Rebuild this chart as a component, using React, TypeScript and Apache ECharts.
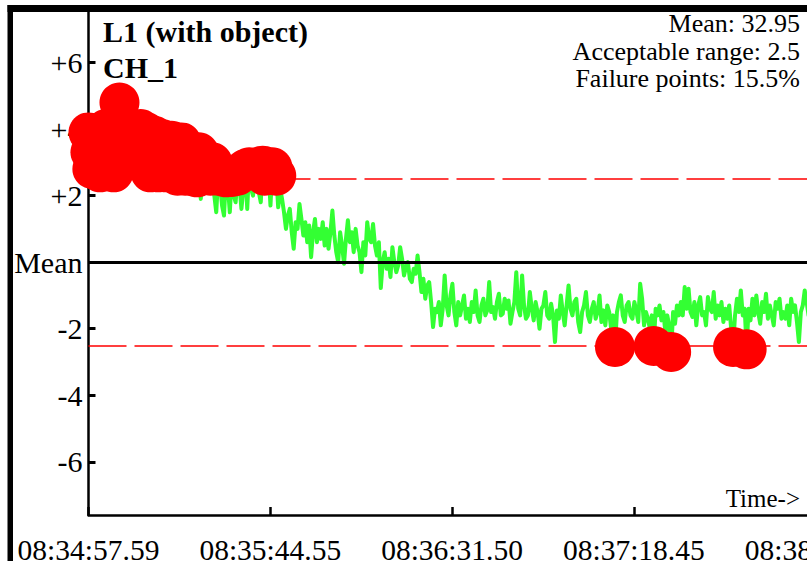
import React, { useEffect, useRef } from "react";
import * as echarts from "echarts";

// ---- data ----
const SAMPLE_STEP = 0.5; // seconds between samples
const GREEN_VALUES = [
  // t 0-9.5
  3.9, 3.3, 2.8, 3.6, 3.5, 2.9, 2.7, 3.4, 3.6, 4.0, 3.0, 3.5, 4.0, 2.7, 3.2, 4.2, 4.8, 4.0, 3.9, 3.1,
  // t 10-19.5
  3.3, 3.6, 3.1, 3.9, 3.5, 3.1, 3.2, 4.0, 3.6, 3.4, 3.9, 3.0, 2.7, 3.5, 3.8, 3.3, 2.7, 3.0, 3.7, 3.2,
  // t 20-29.5
  2.7, 3.6, 3.4, 3.65, 2.9, 3.2, 2.6, 3.5, 3.6, 3.0, 2.6, 3.3, 2.8, 2.6, 3.3, 3.1, 2.55, 3.3, 1.9, 2.7,
  // t 30-39.5
  3.0, 2.2, 2.9, 2.6, 3.0, 2.0, 1.5, 2.6, 2.3, 1.7, 1.4, 2.55, 2.3, 1.5, 2.56, 2.0, 1.8, 2.6, 2.3, 1.6,
  // t 40-49.5
  2.2, 2.8, 1.6, 2.85, 2.2, 2.0, 2.8, 2.85, 2.1, 1.8, 2.9, 2.6, 2.1, 2.8, 1.7, 2.85, 2.3, 2.6, 1.65, 2.2,
  // t 50-59.5
  1.9, 1.5, 1.0, 1.4, 1.6, 0.9, 0.4, 1.2, 1.0, 1.75, 1.3, 0.8, 1.2, 0.6, 1.1, 0.15, 0.9, 1.3, 0.6, 1.0,
  // t 60-69.5
  0.7, 1.2, 0.5, 1.0, 0.4, 0.9, 1.55, 0.8, 0.3, 0.0, 0.9, 0.5, -0.05, 0.7, 1.26, 0.6, 0.9, 0.3, 1.0, 0.5,
  // t 70-79.5
  0.3, -0.3, 0.6, 0.2, 1.2, 0.7, 0.6, 1.15, 0.5, 0.2, 0.6, -0.78, 0.0, 0.3, -0.2, 0.1, -0.45, 0.45, 0.0, -0.3,
  // t 80-89.5
  -0.1, 0.45, 0.1, -0.4, -0.15, 0.0, -0.5, -0.6, -0.2, -0.35, 0.2, -0.3, -0.9, -0.5, -1.1, -0.7, -0.6, -1.2, -1.95, -1.4,
  // t 90-99.5
  -1.5, -1.2, -1.9, -1.4, -0.4, -1.3, -1.6, -1.0, -0.65, -1.5, -1.9, -1.2, -1.6, -1.3, -1.0, -1.7, -1.4, -1.8, -1.2, -1.5,
  // t 100-109.5
  -0.85, -1.6, -1.8, -1.3, -1.1, -1.6, -1.45, -0.6, -1.5, -1.35, -1.7, -1.2, -0.95, -1.6, -1.55, -1.1, -1.4, -1.15, -1.85, -1.5,
  // t 110-119.5
  -1.2, -0.3, -1.4, -1.6, -0.4, -1.3, -1.7, -1.6, -0.9, -1.4, -1.75, -1.2, -1.5, -2.0, -1.4, -1.3, -0.9, -1.6, -1.7, -1.25,
  // t 120-129.5
  -1.6, -2.4, -1.45, -1.7, -1.0, -1.5, -1.9, -1.3, -0.7, -1.4, -1.6, -1.2, -1.1, -1.8, -2.1, -1.5, -1.3, -0.9, -1.6, -1.8,
  // t 130-139.5
  -1.4, -1.2, -1.7, -1.5, -1.0, -1.8, -1.45, -1.9, -1.3, -1.5, -2.0, -1.6, -2.55, -1.5, -1.2, -1.0, -1.6, -1.8, -1.3, -1.2,
  // t 140-149.5
  -1.6, -1.7, -1.2, -1.45, -1.8, -0.65, -1.1, -1.9, -1.5, -1.7, -2.0, -1.6, -2.52, -1.4, -1.6, -1.3, -1.75, -1.5, -2.1, -1.6,
  // t 150-159.5
  -1.9, -2.7, -1.5, -1.85, -1.3, -1.6, -1.2, -1.6, -0.75, -1.4, -0.8, -1.5, -1.65, -1.2, -1.9, -1.3, -1.05, -1.6, -1.5, -1.9,
  // t 160-169.5
  -1.05, -1.4, -1.5, -0.9, -1.7, -1.3, -1.6, -1.2, -1.8, -1.4, -1.7, -1.3, -2.0, -2.55, -1.6, -1.1, -1.5, -0.85, -1.6, -1.4,
  // t 170-179.5
  -2.62, -1.4, -1.75, -1.1, -1.6, -1.0, -1.5, -1.85, -1.2, -1.5, -0.95, -1.7, -1.3, -1.6, -1.9, -1.2, -1.4, -1.1, -1.7, -1.5,
  // t 180-189.5
  -1.7, -1.3, -1.9, -1.1, -1.5, -1.3, -1.8, -2.4, -1.5, -1.3, -0.85, -1.2, -1.6, -1.2, -1.9, -1.0, -1.5, -1.75, -1.1, -1.6,
  // t 190-200
  -1.3, -1.8, -1.15, -1.5, -1.7, -1.25, -1.6, -1.1, -1.9, -1.4, -1.3, -1.7, -1.0, -1.5, -1.8, -1.2, -1.6, -1.4, -1.75, -1.3, -1.5,
];
const ACCEPTABLE_RANGE = 2.5;
const TIME_TICKS = [0, 46.96, 93.91, 140.86, 187.82];
const TIME_LABELS = ["08:34:57.59", "08:35:44.55", "08:36:31.50", "08:37:18.45", "08:38:05.41"];
const Y_TICKS = [-6, -4, -2, 0, 2, 4, 6];
const Y_LABELS = ["-6", "-4", "-2", "Mean", "+2", "+4", "+6"];
const TITLE_LINES = ["L1 (with object)", "CH_1"];
const STAT_LINES = ["Mean: 32.95", "Acceptable range: 2.5", "Failure points: 15.5%"];
const X_MAX = 200;
const Y_MIN = -7.6;
const Y_MAX = 7.6;

const FONT = '"Liberation Serif", "Times New Roman", serif';

export default function App() {
  const ref = useRef<HTMLDivElement>(null);

  useEffect(() => {
    if (!ref.current) return;
    const chart = echarts.init(ref.current, null, { renderer: "svg" });
    const lineData = GREEN_VALUES.map((v, i) => [i * SAMPLE_STEP, v]);
    const failData = lineData.filter((p) => Math.abs(p[1]) > ACCEPTABLE_RANGE);

    const gridLeft = 88.5;
    const gridTop = 9.3;
    const gridBottomY = 515;
    const pxPerSec = 181.8 / 46.96;

    chart.setOption({
      animation: false,
      backgroundColor: "#fff",
      grid: {
        left: gridLeft,
        top: gridTop,
        width: X_MAX * pxPerSec,
        height: gridBottomY - gridTop,
        outerBoundsMode: "none",
        containLabel: false,
      },
      xAxis: {
        type: "value",
        min: 0,
        max: X_MAX,
        axisLine: { show: true, onZero: false, lineStyle: { color: "#000", width: 2.5 } },
        axisTick: {
          show: true,
          inside: true,
          length: 8,
          customValues: TIME_TICKS,
          lineStyle: { color: "#000", width: 2.5 },
        },
        axisLabel: {
          show: true,
          customValues: TIME_TICKS,
          margin: 20,
          fontFamily: FONT,
          fontSize: 29.5,
          color: "#000",
          formatter: (v: number) => {
            const i = TIME_TICKS.findIndex((t) => Math.abs(t - v) < 1e-6);
            return i >= 0 ? TIME_LABELS[i] : "";
          },
        },
        splitLine: { show: false },
      },
      yAxis: {
        type: "value",
        min: Y_MIN,
        max: Y_MAX,
        axisLine: { show: true, onZero: false, lineStyle: { color: "#000", width: 2.5 } },
        axisTick: {
          show: true,
          inside: true,
          length: 7,
          customValues: Y_TICKS,
          lineStyle: { color: "#000", width: 3 },
        },
        axisLabel: {
          show: true,
          customValues: Y_TICKS,
          margin: 6,
          fontFamily: FONT,
          fontSize: 30,
          color: "#000",
          formatter: (v: number) => {
            const i = Y_TICKS.findIndex((t) => Math.abs(t - v) < 1e-6);
            return i >= 0 ? Y_LABELS[i] : "";
          },
        },
        splitLine: { show: false },
      },
      series: [
        {
          type: "line",
          name: "limits",
          data: [],
          z: 1,
          silent: true,
          markLine: {
            silent: true,
            symbol: "none",
            label: { show: false },
            data: [
              { yAxis: ACCEPTABLE_RANGE, lineStyle: { color: "#ff0000", width: 1.5, type: [38, 8] } },
              { yAxis: -ACCEPTABLE_RANGE, lineStyle: { color: "#ff0000", width: 1.5, type: [38, 8] } },
              { yAxis: 0, lineStyle: { color: "#000", width: 3, type: "solid" } },
            ],
          },
        },
        {
          type: "line",
          name: "signal",
          data: lineData,
          z: 2,
          showSymbol: false,
          symbol: "none",
          silent: true,
          sampling: undefined,
          lineStyle: { color: "#33ff33", width: 4, join: "round", cap: "round" },
        },
        {
          type: "scatter",
          name: "failures",
          data: failData,
          z: 3,
          symbol: "circle",
          symbolSize: 40,
          silent: true,
          itemStyle: { color: "#ff0000", opacity: 1 },
        },
      ],
      graphic: [
        { type: "rect", shape: { x: 7.5, y: 5, width: 900, height: 7 }, style: { fill: "#000" }, z: 100 },
        { type: "rect", shape: { x: 7.5, y: 5, width: 5.5, height: 570 }, style: { fill: "#000" }, z: 100 },
        {
          type: "text",
          x: 103,
          y: 31,
          z: 100,
          style: { text: TITLE_LINES[0], font: `bold 30px ${FONT}`, fill: "#000", textAlign: "left", textVerticalAlign: "middle" },
        },
        {
          type: "text",
          x: 103,
          y: 67,
          z: 100,
          style: { text: TITLE_LINES[1], font: `bold 30px ${FONT}`, fill: "#000", textAlign: "left", textVerticalAlign: "middle" },
        },
        ...STAT_LINES.map((t, i) => ({
          type: "text",
          x: 800,
          y: 23.5 + i * 27.5,
          z: 100,
          style: { text: t, font: `26px ${FONT}`, fill: "#000", textAlign: "right", textVerticalAlign: "middle" },
        })),
        {
          type: "text",
          x: 800,
          y: 498,
          z: 100,
          style: { text: "Time->", font: `25px ${FONT}`, fill: "#000", textAlign: "right", textVerticalAlign: "middle" },
        },
      ],
    });

    return () => chart.dispose();
  }, []);

  return (
    <div
      style={{
        position: "fixed",
        left: 0,
        top: 0,
        width: 807,
        height: 561,
        overflow: "hidden",
        background: "#fff",
      }}
    >
      <div ref={ref} style={{ width: 900, height: 561 }} />
    </div>
  );
}
